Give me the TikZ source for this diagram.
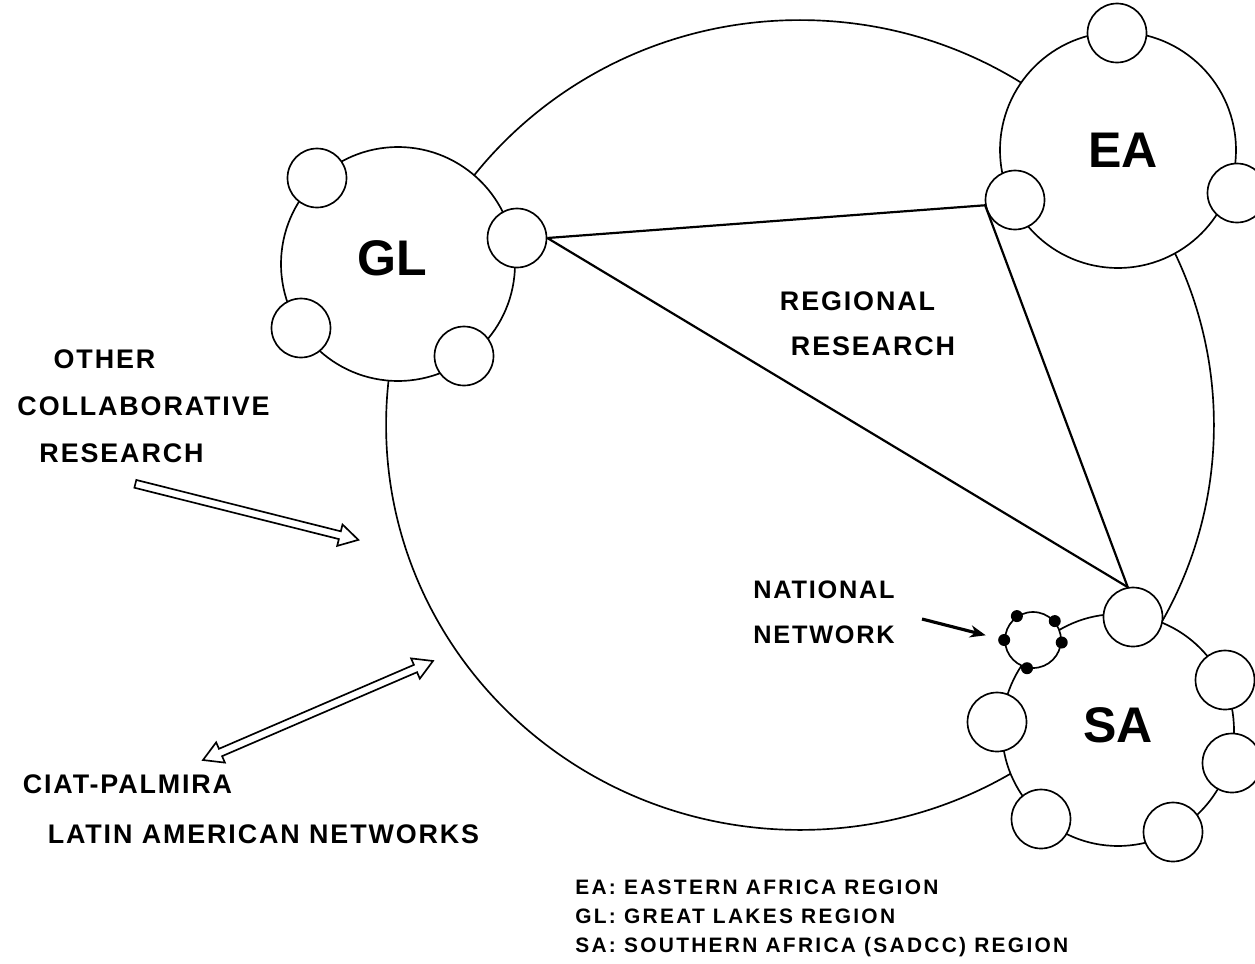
\documentclass[tikz,border=0pt]{standalone}
\usepackage{fontspec}
\setmainfont{Liberation Sans}
\newfontfamily\lblfont[LetterSpace=7]{Liberation Sans}
\newfontfamily\legfont[LetterSpace=11]{Liberation Sans}
\usetikzlibrary{shapes.geometric,shapes.arrows,arrows.meta}
\tikzset{
  region/.style={circle, draw, fill=white, line width=0.95pt, inner sep=0pt, minimum size=#1},
  sat/.style={circle, draw, fill=white, line width=0.95pt, inner sep=0pt, minimum size=1.18cm},
  link/.style={line width=1.25pt},
  dotnode/.style={circle, fill=black, inner sep=0pt, minimum size=0.24cm},
  lbl/.style={font=\lblfont\fontsize{15.3pt}{18pt}\selectfont\bfseries, inner sep=0pt, anchor=base},
  biglbl/.style={font=\fontsize{28.5pt}{34pt}\selectfont\bfseries, inner sep=0pt},
  leg/.style={font=\legfont\fontsize{11.9pt}{14pt}\selectfont\bfseries, anchor=base west, inner sep=0pt},
  hollow/.style={draw, fill=white, line width=0.95pt, inner xsep=0pt, inner ysep=1.8pt}
}
\begin{document}
\begin{tikzpicture}[x=0.02cm, y=-0.02cm]
\useasboundingbox (0,0) rectangle (1255,964);
\clip (0,0) rectangle (1255,964);
\fill[white] (0,0) rectangle (1255,964);

% big circle of the whole network
\node[draw, ellipse, line width=0.95pt, minimum width=16.56cm, minimum height=16.2cm, inner sep=0pt] (big) at (800,425) {};

% regional circles
\node[region=4.68cm] (GL) at (398,264) {};
\node[region=4.72cm] (EA) at (1118,150) {};
\node[region=4.64cm] (SA) at (1118,730) {};

% satellite circles
\node[sat] (gl1) at (317,178) {};
\node[sat] (gl2) at (517,238) {};
\node[sat] (gl3) at (301,328) {};
\node[sat] (gl4) at (464,356) {};
\node[sat] (ea1) at (1117,33) {};
\node[sat] (ea2) at (1015,200) {};
\node[sat] (ea3) at (1237,193) {};
\node[sat] (sa1) at (1133,617) {};
\node[sat] (sa2) at (1225,680) {};
\node[sat] (sa3) at (1232,763) {};
\node[sat] (sa4) at (1173,832) {};
\node[sat] (sa5) at (1041,819) {};
\node[sat] (sa6) at (997,722) {};
\node[sat, minimum size=1.12cm] (nn) at (1033,640) {};
\node[dotnode] (d1) at (nn.124) {};
\node[dotnode] (d2) at (nn.41) {};
\node[dotnode] (d3) at (nn.-5) {};
\node[dotnode] (d4) at (nn.-102) {};
\node[dotnode] (d5) at (nn.180) {};

% region labels
\node[biglbl] (GLt) at (392,258) {GL};
\node[biglbl] (EAt) at (1123,150) {EA};
\node[biglbl] (SAt) at (1118,725) {SA};

% regional research triangle
\draw[link] (gl2.east) -- (ea2.190);
\draw[link] (gl2.east) -- (sa1.100);
\draw[link] (ea2.190) -- (sa1.100);

% texts
\node[lbl] (o1) at (104.5,368) {OTHER};
\node[lbl] (o2) at (143.5,415) {COLLABORATIVE};
\node[lbl] (o3) at (121.5,462) {RESEARCH};
\node[lbl] (r1) at (857.5,310) {REGIONAL};
\node[lbl] (r2) at (873,355) {RESEARCH};
\node[lbl, anchor=base west, font=\lblfont\fontsize{14.4pt}{17pt}\selectfont\bfseries] (n1) at (753,598) {NATIONAL};
\node[lbl, anchor=base west, font=\lblfont\fontsize{14.4pt}{17pt}\selectfont\bfseries] (n2) at (753,643) {NETWORK};
\node[lbl] (c1) at (127.5,793) {CIAT-PALMIRA};
\node[lbl] (c2) at (263.5,843) {LATIN AMERICAN NETWORKS};

% legend
\node[leg] (l1) at (575,894) {EA: EASTERN AFRICA REGION};
\node[leg] (l2) at (575,923) {GL: GREAT LAKES REGION};
\node[leg] (l3) at (575,952) {SA: SOUTHERN AFRICA (SADCC) REGION};

% hollow arrows
\node[hollow, single arrow, single arrow head extend=4pt, single arrow tip angle=60, minimum height=4.6cm, rotate=-14.1] (oarr) at (243.5,511) {};
\node[hollow, double arrow, double arrow head extend=4pt, double arrow tip angle=60, minimum height=5.01cm, rotate=23.3] (carr) at (318,710.5) {};

% national network arrow
\coordinate (nntail) at (922,619);
\draw[line width=1.8pt, -{Stealth[length=9pt, width=7pt]}, shorten >=0.38cm] (nntail) -- (nn.west);
\end{tikzpicture}
\end{document}
